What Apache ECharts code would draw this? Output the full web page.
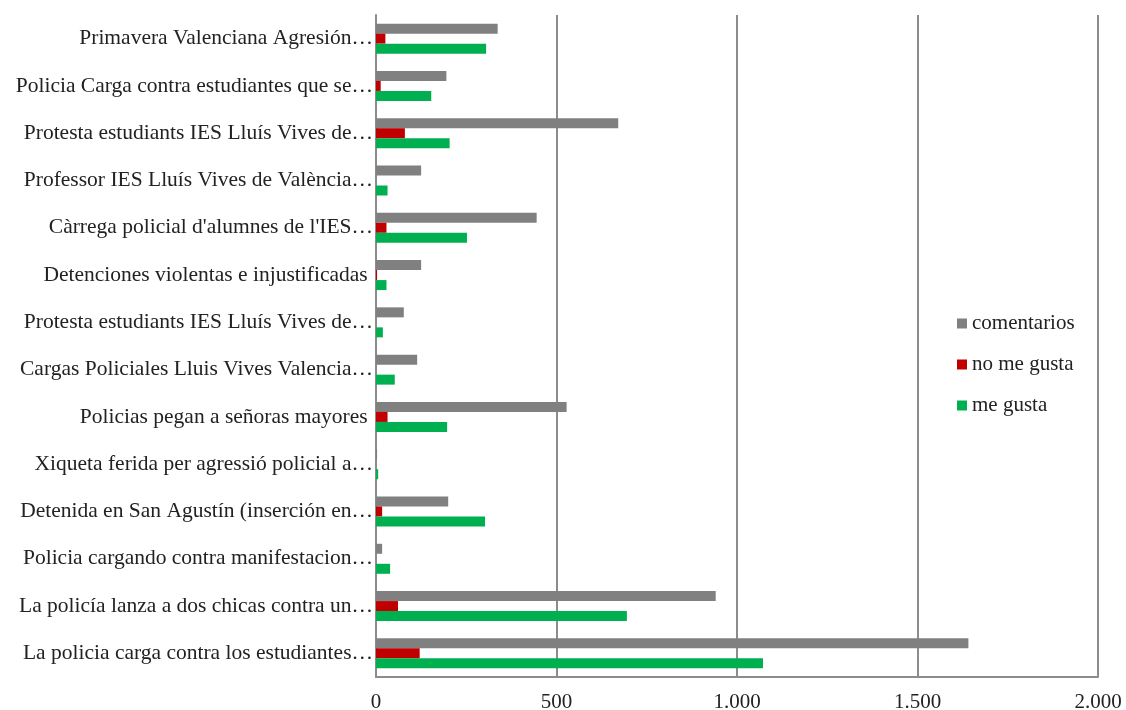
<!DOCTYPE html>
<html>
<head>
<meta charset="utf-8">
<script src="https://cdn.jsdelivr.net/npm/echarts@6/dist/echarts.min.js"></script>
<style>
  html, body { margin: 0; padding: 0; background: #fff; }
  #main { width: 1126px; height: 710px; }
</style>
</head>
<body>
<div id="main"></div>
<script>
// categories listed bottom to top, as the y axis draws them
var categories = [
  'La policia carga contra los estudiantes…',
  'La policía lanza a dos chicas contra un…',
  'Policia cargando contra manifestacion…',
  'Detenida en San Agustín (inserción en…',
  'Xiqueta ferida per agressió policial a…',
  'Policias pegan a señoras mayores ',
  'Cargas Policiales Lluis Vives Valencia…',
  'Protesta estudiants IES Lluís Vives de…',
  'Detenciones violentas e injustificadas ',
  "Càrrega policial d'alumnes de l'IES…",
  'Professor IES Lluís Vives de València…',
  'Protesta estudiants IES Lluís Vives de…',
  'Policia Carga contra estudiantes que se…',
  'Primavera Valenciana Agresión…'
];
var meGusta     = [1072, 695, 39, 302, 6, 197, 52, 19, 29, 252, 32, 204, 153, 305];
var noMeGusta   = [121, 61, 0, 17, 0, 32, 0, 0, 3, 29, 0, 80, 13, 26];
var comentarios = [1641, 941, 17, 200, 3, 528, 114, 77, 125, 445, 125, 671, 195, 337];
var xTicks = [0, 500, 1000, 1500, 2000];

var font = '"Liberation Serif", "Times New Roman", serif';

var chart = echarts.init(document.getElementById('main'));
chart.setOption({
  animation: false,
  grid: { left: 376, right: 28, top: 15, bottom: 33, containLabel: false, outerBoundsMode: 'none' },
  legend: {
    orient: 'vertical',
    left: 952,
    top: 308,
    itemWidth: 10,
    itemHeight: 10,
    itemGap: 20,
    icon: 'rect',
    data: ['comentarios', 'no me gusta', 'me gusta'],
    textStyle: { fontFamily: font, fontSize: 21, color: '#222' }
  },
  xAxis: {
    type: 'value',
    min: xTicks[0],
    max: xTicks[xTicks.length - 1],
    interval: 500,
    axisLine: { show: true, lineStyle: { color: '#8c8c8c', width: 2 } },
    axisTick: { show: false },
    splitLine: { show: true, lineStyle: { color: '#8c8c8c', width: 2 } },
    axisLabel: {
      margin: 15,
      fontFamily: font,
      fontSize: 21,
      color: '#222',
      formatter: function (v) { return String(v).replace(/\B(?=(\d{3})+(?!\d))/g, '.'); }
    }
  },
  yAxis: {
    type: 'category',
    data: categories,
    axisLine: { show: true, lineStyle: { color: '#8c8c8c', width: 2 } },
    axisTick: { show: false },
    axisLabel: { margin: 3, fontFamily: font, fontSize: 21.5, color: '#222' }
  },
  // within each group the first series sits on top
  series: [
    { name: 'comentarios', type: 'bar', data: comentarios, barWidth: 10, barGap: '0%',
      itemStyle: { color: '#808080' } },
    { name: 'no me gusta', type: 'bar', data: noMeGusta, barWidth: 10, barGap: '0%',
      itemStyle: { color: '#c00000' } },
    { name: 'me gusta', type: 'bar', data: meGusta, barWidth: 10, barGap: '0%',
      itemStyle: { color: '#00b050' } }
  ]
});
</script>
</body>
</html>
